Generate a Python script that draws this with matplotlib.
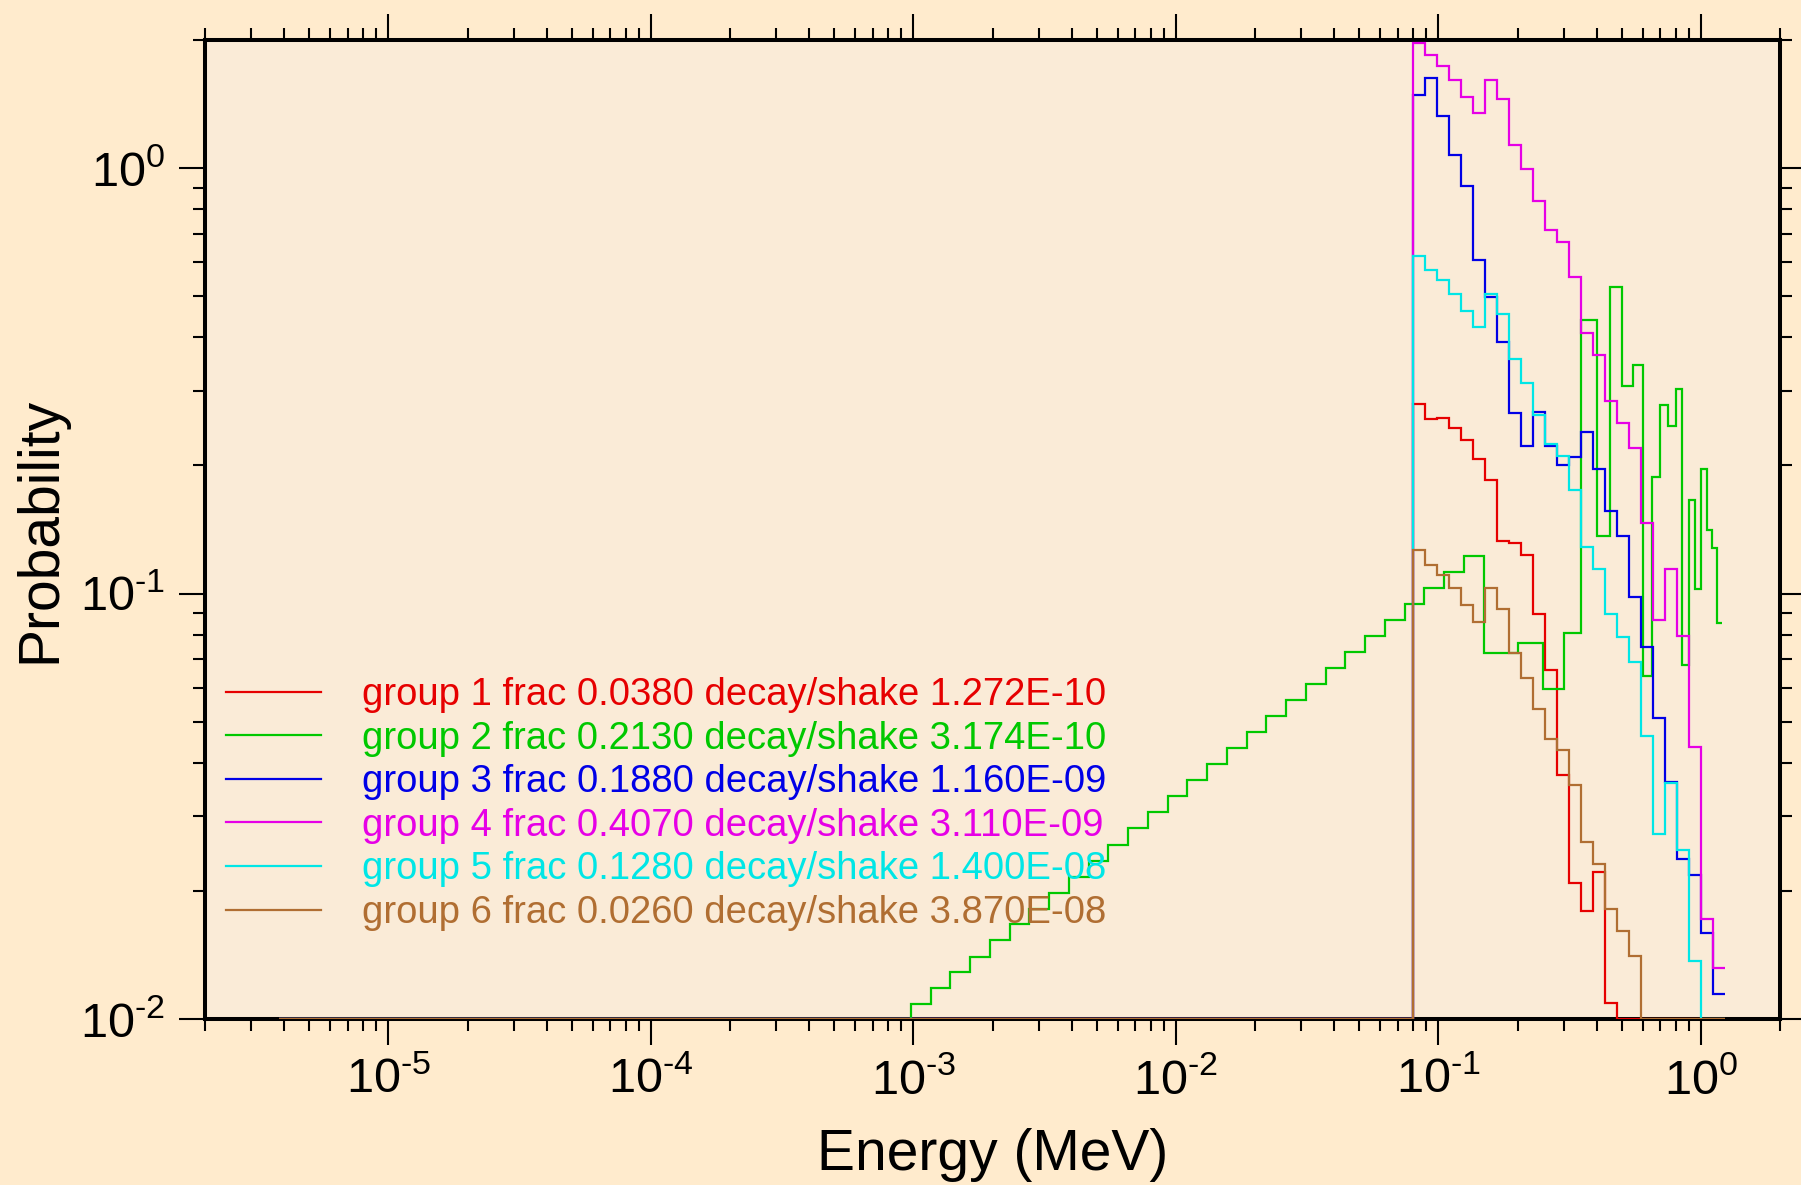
import numpy as np
import matplotlib
matplotlib.use('Agg')
import matplotlib.pyplot as plt
from matplotlib import ticker

plt.rcParams['font.family'] = ['Liberation Sans', 'DejaVu Sans']
plt.rcParams['mathtext.fontset'] = 'custom'
plt.rcParams['mathtext.rm'] = 'Liberation Sans'
plt.rcParams['mathtext.default'] = 'regular'
plt.rcParams['axes.unicode_minus'] = False

# ---------------- data ----------------
LOW_E = 3.815e-6          # lowest energy edge (below-range bins drawn at the axis floor)

# bin edges (MeV) for groups 1,3,4,5,6
edges_fine = [0.07977, 0.08863, 0.09848, 0.10942, 0.12158, 0.13509, 0.15009,
              0.16677, 0.18530, 0.20589, 0.22877, 0.25419, 0.28243, 0.31381,
              0.34868, 0.38742, 0.43047, 0.47830, 0.53144, 0.59049, 0.65610,
              0.72900, 0.81000, 0.90000, 1.00000, 1.11111, 1.23457]

# bin edges (MeV) for group 2
edges_g2 = [0.00097656, 0.0011613, 0.0013811, 0.0016424, 0.0019531, 0.0023227,
            0.0027621, 0.0032848, 0.0039063, 0.0046453, 0.0055243, 0.0065695,
            0.0078125, 0.0092907, 0.0110485, 0.0131390, 0.015625, 0.0185814,
            0.0220971, 0.0262780, 0.03125, 0.0371627, 0.0441942, 0.0525560,
            0.0625, 0.0743254, 0.0883883, 0.1051121, 0.125, 0.1486509, 0.1767767,
            0.20, 0.25, 0.30, 0.35, 0.40, 0.45, 0.50, 0.55, 0.60, 0.65, 0.70,
            0.75, 0.80, 0.85, 0.90, 0.95, 1.00, 1.05, 1.10, 1.15, 1.20]

group1 = [0.2793, 0.2575, 0.2583, 0.2443, 0.2298, 0.2074, 0.1851, 0.1326, 0.1314,
          0.1229, 0.0895, 0.0662, 0.0374, 0.0209, 0.01797, 0.02216, 0.0109,
          0, 0, 0, 0, 0, 0, 0, 0, 0]
group2 = [0.01084, 0.0118, 0.01287, 0.0140, 0.0153, 0.01668, 0.01816, 0.01977,
          0.02157, 0.02355, 0.02568, 0.02805, 0.0306, 0.03335, 0.03637, 0.03974,
          0.04325, 0.04716, 0.05154, 0.05608, 0.06115, 0.06682, 0.07287, 0.07946,
          0.08664, 0.0945, 0.1032, 0.1125, 0.1227, 0.0725, 0.0725,
          0.0765, 0.0596, 0.0808, 0.4393, 0.1367, 0.524, 0.3074, 0.3449, 0.0639,
          0.1878, 0.2773, 0.247, 0.3029, 0.068, 0.1661, 0.1025, 0.1962, 0.1407,
          0.1279, 0.0852]
group3 = [1.487, 1.627, 1.322, 1.075, 0.909, 0.609, 0.4966, 0.390, 0.2656, 0.2225,
          0.2675, 0.2217, 0.200, 0.2089, 0.240, 0.1957, 0.1565, 0.1365, 0.0981,
          0.0749, 0.0511, 0.0361, 0.0238, 0.02183, 0.01593, 0.01143]
group4 = [1.97, 1.84, 1.74, 1.61, 1.47, 1.35, 1.61, 1.45, 1.134, 0.995, 0.838,
          0.714, 0.671, 0.555, 0.4096, 0.3635, 0.284, 0.252, 0.220, 0.1464, 0.0868,
          0.1142, 0.0793, 0.0436, 0.01721, 0.0132]
group5 = [0.622, 0.5768, 0.5464, 0.5058, 0.462, 0.4221, 0.5066, 0.4545, 0.3557,
          0.3125, 0.2632, 0.2249, 0.2108, 0.1747, 0.1286, 0.1142, 0.0895, 0.079,
          0.0691, 0.0462, 0.0272, 0.0359, 0.0249, 0.0137, 0, 0]
group6 = [0.1263, 0.1168, 0.1107, 0.1028, 0.094, 0.0857, 0.1028, 0.0922, 0.0725,
          0.0633, 0.0535, 0.0456, 0.0428, 0.0354, 0.02606, 0.02317, 0.01814,
          0.01606, 0.01403, 0, 0, 0, 0, 0, 0, 0]

labels = ["group 1 frac 0.0380 decay/shake 1.272E-10",
          "group 2 frac 0.2130 decay/shake 3.174E-10",
          "group 3 frac 0.1880 decay/shake 1.160E-09",
          "group 4 frac 0.4070 decay/shake 3.110E-09",
          "group 5 frac 0.1280 decay/shake 1.400E-08",
          "group 6 frac 0.0260 decay/shake 3.870E-08"]
colors = ['#E60000', '#00C800', '#0000E6', '#E600E6', '#00E6E6', '#B06E32']

x_major = [1e-5, 1e-4, 1e-3, 1e-2, 1e-1, 1e0]
y_major = [1e-2, 1e-1, 1e0]

YMIN, YMAX = 0.01, 2.0
XMIN, XMAX = 2e-6, 2.0

# ---------------- figure ----------------
fig = plt.figure(figsize=(18.01, 11.85), dpi=100, facecolor='#FFEBCD')
ax = fig.add_axes([205/1801, 1 - 1019/1185, (1780-205)/1801, (1019-40)/1185])
ax.set_facecolor('#FAEBD7')
ax.set_xscale('log')
ax.set_yscale('log')
ax.set_xlim(XMIN, XMAX)
ax.set_ylim(YMIN, YMAX)

series = [(edges_fine, group1), (edges_g2, group2), (edges_fine, group3),
          (edges_fine, group4), (edges_fine, group5), (edges_fine, group6)]
for (edges, vals), color, lab in zip(series, colors, labels):
    e = np.concatenate([[LOW_E], np.asarray(edges, float)])
    v = np.concatenate([[0.0], np.asarray(vals, float)])
    ax.stairs(np.clip(v, YMIN, None), e, baseline=None, color=color,
              lw=1.6, label=lab, zorder=3)

for s in ax.spines.values():
    s.set_linewidth(2.9)


def pow10_label(v, pos):
    if v <= 0:
        return ''
    ex = int(np.round(np.log10(v)))
    if ex < 0:
        return r'$\mathregular{10^{\text{-}%d}}$' % (-ex)
    return r'$\mathregular{10^{%d}}$' % ex


ax.xaxis.set_major_locator(ticker.FixedLocator(x_major))
ax.xaxis.set_minor_locator(ticker.LogLocator(base=10, subs=np.arange(2, 10), numticks=100))
ax.yaxis.set_major_locator(ticker.FixedLocator(y_major))
ax.yaxis.set_minor_locator(ticker.LogLocator(base=10, subs=np.arange(2, 10), numticks=100))
ax.xaxis.set_major_formatter(ticker.FuncFormatter(pow10_label))
ax.yaxis.set_major_formatter(ticker.FuncFormatter(pow10_label))
ax.xaxis.set_minor_formatter(ticker.NullFormatter())
ax.yaxis.set_minor_formatter(ticker.NullFormatter())

ax.tick_params(which='both', direction='out', top=True, right=True,
               width=1.5, labelsize=35, colors='black')
ax.tick_params(which='major', length=19)
ax.tick_params(which='minor', length=8.5)
ax.tick_params(axis='x', which='major', pad=9)
ax.tick_params(axis='y', which='major', pad=10)

ax.set_xlabel('Energy (MeV)', fontsize=41, labelpad=17)
ax.set_ylabel('Probability', fontsize=41, labelpad=9)

leg = ax.legend(loc='center left', bbox_to_anchor=(0.0133, 0.2196),
                frameon=False, fontsize=27.5, handlelength=2.5,
                handletextpad=1.05, labelspacing=0.2, borderpad=0,
                borderaxespad=0)
for txt, c in zip(leg.get_texts(), colors):
    txt.set_color(c)

fig.savefig('out.png', dpi=100, facecolor=fig.get_facecolor())
